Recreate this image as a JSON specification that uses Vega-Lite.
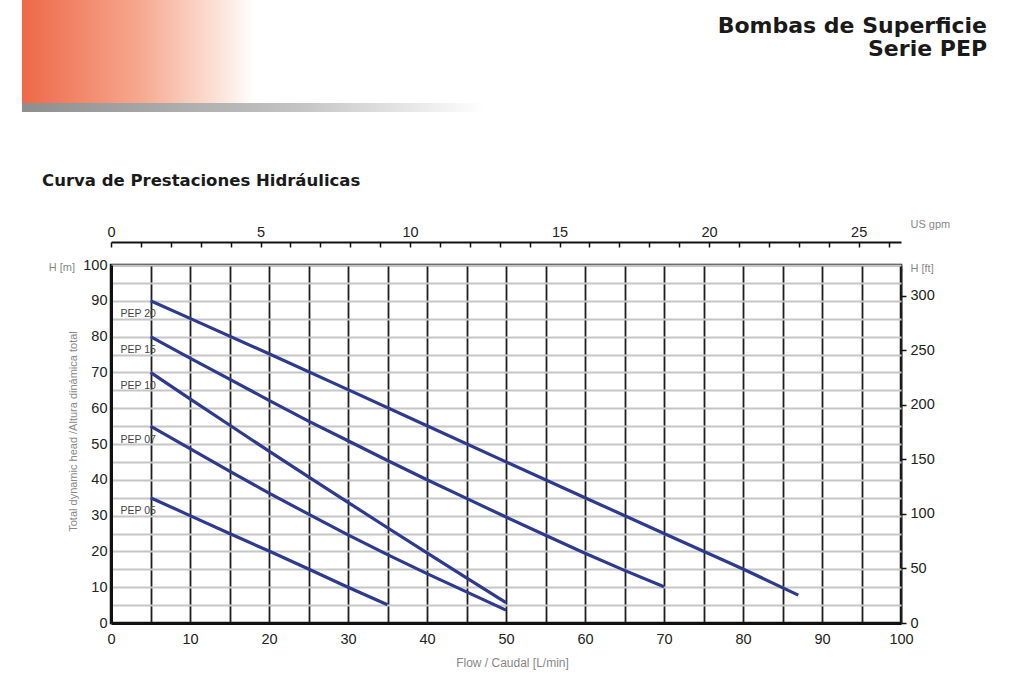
{
  "$schema": "https://vega.github.io/schema/vega-lite/v6.json",
  "width": 790,
  "height": 358,
  "autosize": "none",
  "padding": {"left": 111, "top": 265, "right": 123, "bottom": 60},
  "background": "white",
  "config": {
    "font": "Liberation Sans",
    "view": {"stroke": "#111111", "strokeWidth": 2.5},
    "axis": {"labelFont": "Liberation Sans", "titleFont": "Liberation Sans", "labelFlush": false, "labelOverlap": false}
  },
  "datasets": {
    "curves": [
      {"model": "PEP 20", "q": 5, "h": 90},
      {"model": "PEP 20", "q": 10, "h": 85.1},
      {"model": "PEP 20", "q": 20, "h": 75.2},
      {"model": "PEP 20", "q": 30, "h": 65.2},
      {"model": "PEP 20", "q": 40, "h": 55.1},
      {"model": "PEP 20", "q": 50, "h": 45},
      {"model": "PEP 20", "q": 60, "h": 35},
      {"model": "PEP 20", "q": 70, "h": 25},
      {"model": "PEP 20", "q": 80, "h": 15.1},
      {"model": "PEP 20", "q": 87, "h": 7.8},
      {"model": "PEP 15", "q": 5, "h": 80},
      {"model": "PEP 15", "q": 10, "h": 74},
      {"model": "PEP 15", "q": 15, "h": 68.1},
      {"model": "PEP 15", "q": 20, "h": 62.2},
      {"model": "PEP 15", "q": 25, "h": 56.4},
      {"model": "PEP 15", "q": 30, "h": 50.9},
      {"model": "PEP 15", "q": 35, "h": 45.4},
      {"model": "PEP 15", "q": 40, "h": 40},
      {"model": "PEP 15", "q": 45, "h": 34.8},
      {"model": "PEP 15", "q": 50, "h": 29.6},
      {"model": "PEP 15", "q": 55, "h": 24.5},
      {"model": "PEP 15", "q": 60, "h": 19.5},
      {"model": "PEP 15", "q": 65, "h": 14.7},
      {"model": "PEP 15", "q": 70, "h": 10.1},
      {"model": "PEP 10", "q": 5, "h": 70},
      {"model": "PEP 10", "q": 10, "h": 62.6},
      {"model": "PEP 10", "q": 15, "h": 55.3},
      {"model": "PEP 10", "q": 20, "h": 48},
      {"model": "PEP 10", "q": 25, "h": 40.8},
      {"model": "PEP 10", "q": 30, "h": 33.7},
      {"model": "PEP 10", "q": 35, "h": 26.6},
      {"model": "PEP 10", "q": 40, "h": 19.6},
      {"model": "PEP 10", "q": 45, "h": 12.6},
      {"model": "PEP 10", "q": 50, "h": 5.7},
      {"model": "PEP 07", "q": 5, "h": 55},
      {"model": "PEP 07", "q": 10, "h": 48.7},
      {"model": "PEP 07", "q": 15, "h": 42.4},
      {"model": "PEP 07", "q": 20, "h": 36.3},
      {"model": "PEP 07", "q": 25, "h": 30.4},
      {"model": "PEP 07", "q": 30, "h": 24.6},
      {"model": "PEP 07", "q": 35, "h": 19.1},
      {"model": "PEP 07", "q": 40, "h": 13.8},
      {"model": "PEP 07", "q": 45, "h": 8.7},
      {"model": "PEP 07", "q": 50, "h": 3.6},
      {"model": "PEP 05", "q": 5, "h": 35},
      {"model": "PEP 05", "q": 10, "h": 30},
      {"model": "PEP 05", "q": 15, "h": 25},
      {"model": "PEP 05", "q": 20, "h": 20.1},
      {"model": "PEP 05", "q": 25, "h": 15.1},
      {"model": "PEP 05", "q": 30, "h": 10},
      {"model": "PEP 05", "q": 35, "h": 5.1}
    ]
  },
  "layer": [
    {
      "data": {"name": "curves"},
      "mark": {"type": "line", "color": "#2e3a8e", "strokeWidth": 3.2, "strokeCap": "butt"},
      "encoding": {
        "x": {
          "field": "q", "type": "quantitative",
          "scale": {"domain": [0, 100], "nice": false},
          "axis": {
            "orient": "bottom",
            "title": "Flow / Caudal [L/min]",
            "values": [0, 5, 10, 15, 20, 25, 30, 35, 40, 45, 50, 55, 60, 65, 70, 75, 80, 85, 90, 95, 100],
            "labelExpr": "datum.value % 10 === 0 ? datum.label : ''",
            "grid": true, "gridColor": "#1e1e1e", "gridWidth": 1.8,
            "ticks": false, "labelPadding": 9, "labelFontSize": 14.5, "labelColor": "#222222",
            "domainColor": "#111111", "domainWidth": 3,
            "titleFontSize": 12, "titleColor": "#888888", "titleFontWeight": "normal", "titlePadding": 12, "titleX": 401
          }
        },
        "y": {
          "field": "h", "type": "quantitative",
          "scale": {"domain": [0, 100], "nice": false},
          "axis": {
            "orient": "left",
            "title": "Total dynamic head /Altura dinámica total",
            "values": [0, 5, 10, 15, 20, 25, 30, 35, 40, 45, 50, 55, 60, 65, 70, 75, 80, 85, 90, 95, 100],
            "labelExpr": "datum.value % 10 === 0 ? datum.label : ''",
            "grid": true, "gridColor": "#c6c6c6", "gridWidth": 2,
            "ticks": false, "labelPadding": 4, "labelFontSize": 14.5, "labelColor": "#222222",
            "domainColor": "#111111", "domainWidth": 3,
            "titleFontSize": 11, "titleColor": "#888888", "titleFontWeight": "normal", "titlePadding": 4, "titleY": 166
          }
        },
        "detail": {"field": "model"}
      }
    },
    {
      "data": {"name": "curves"},
      "transform": [{"filter": "datum.q === 5"}],
      "mark": {"type": "text", "align": "left", "baseline": "middle", "dx": -30, "dy": 13.5, "fontSize": 10.5, "color": "#444444"},
      "encoding": {
        "x": {"field": "q", "type": "quantitative", "scale": {"domain": [0, 100], "nice": false}, "axis": null},
        "y": {"field": "h", "type": "quantitative", "scale": {"domain": [0, 100], "nice": false}, "axis": null},
        "text": {"field": "model"}
      }
    },
    {
      "data": {"values": [{}]},
      "mark": {"type": "rect", "fill": {"gradient": "linear", "x1": 0, "y1": 0, "x2": 1, "y2": 0, "stops": [{"offset": 0, "color": "#ee6848"}, {"offset": 0.5, "color": "#f6a78e"}, {"offset": 0.85, "color": "#fde3d9"}, {"offset": 1, "color": "#ffffff"}]}},
      "encoding": {
        "x": {"datum": -11.27, "type": "quantitative", "scale": {"domain": [0, 100], "nice": false}, "axis": null},
        "x2": {"datum": 18.23},
        "y": {"datum": 174.02, "type": "quantitative", "scale": {"domain": [0, 100], "nice": false}, "axis": null},
        "y2": {"datum": 145.25}
      }
    },
    {
      "data": {"values": [{}]},
      "mark": {"type": "rect", "fill": {"gradient": "linear", "x1": 0, "y1": 0, "x2": 1, "y2": 0, "stops": [{"offset": 0, "color": "#8e8e8e"}, {"offset": 0.6, "color": "#c4c4c4"}, {"offset": 1, "color": "#ffffff"}]}},
      "encoding": {
        "x": {"datum": -11.27, "type": "quantitative", "scale": {"domain": [0, 100], "nice": false}, "axis": null},
        "x2": {"datum": 47.34},
        "y": {"datum": 145.25, "type": "quantitative", "scale": {"domain": [0, 100], "nice": false}, "axis": null},
        "y2": {"datum": 142.74}
      }
    },
    {
      "data": {"values": [{}]},
      "mark": {"type": "text", "text": "Bombas de Superficie", "align": "right", "baseline": "middle", "font": "DejaVu Sans", "fontWeight": "bold", "fontSize": 22, "color": "#1a1a1a"},
      "encoding": {
        "x": {"datum": 110.89, "type": "quantitative", "scale": {"domain": [0, 100], "nice": false}, "axis": null},
        "y": {"datum": 166.8, "type": "quantitative", "scale": {"domain": [0, 100], "nice": false}, "axis": null}
      }
    },
    {
      "data": {"values": [{}]},
      "mark": {"type": "text", "text": "Serie PEP", "align": "right", "baseline": "middle", "font": "DejaVu Sans", "fontWeight": "bold", "fontSize": 22, "color": "#1a1a1a"},
      "encoding": {
        "x": {"datum": 110.89, "type": "quantitative", "scale": {"domain": [0, 100], "nice": false}, "axis": null},
        "y": {"datum": 160.3, "type": "quantitative", "scale": {"domain": [0, 100], "nice": false}, "axis": null}
      }
    },
    {
      "data": {"values": [{}]},
      "mark": {"type": "text", "text": "Curva de Prestaciones Hidráulicas", "align": "left", "baseline": "middle", "font": "DejaVu Sans", "fontWeight": "bold", "fontSize": 16.5, "color": "#1a1a1a"},
      "encoding": {
        "x": {"datum": -8.73, "type": "quantitative", "scale": {"domain": [0, 100], "nice": false}, "axis": null},
        "y": {"datum": 123.5, "type": "quantitative", "scale": {"domain": [0, 100], "nice": false}, "axis": null}
      }
    },
    {
      "data": {"values": [{}]},
      "mark": {"type": "text", "text": "H [m]", "align": "right", "baseline": "middle", "fontSize": 11, "color": "#888888"},
      "encoding": {
        "x": {"datum": -4.56, "type": "quantitative", "scale": {"domain": [0, 100], "nice": false}, "axis": null},
        "y": {"datum": 99.1, "type": "quantitative", "scale": {"domain": [0, 100], "nice": false}, "axis": null}
      }
    },
    {
      "data": {"values": [{}]},
      "mark": {"type": "point", "opacity": 0},
      "encoding": {
        "x": {
          "datum": 0, "type": "quantitative",
          "scale": {"domain": [0, 26.417], "nice": false},
          "axis": {
            "orient": "top", "offset": 23,
            "values": [0, 1, 2, 3, 4, 5, 6, 7, 8, 9, 10, 11, 12, 13, 14, 15, 16, 17, 18, 19, 20, 21, 22, 23, 24, 25, 26],
            "labelExpr": "datum.value % 5 === 0 ? datum.label : ''",
            "grid": false, "ticks": true, "tickSize": -5, "tickWidth": 1.5, "tickColor": "#111111",
            "labelPadding": 8, "labelFontSize": 14.5, "labelColor": "#222222",
            "domainColor": "#111111", "domainWidth": 2,
            "title": "US gpm", "titleAngle": 0, "titleX": 799, "titleY": -18, "titleAlign": "left", "titleBaseline": "middle",
            "titleFontSize": 11, "titleColor": "#888888", "titleFontWeight": "normal"
          }
        },
        "y": {
          "datum": 0, "type": "quantitative",
          "scale": {"domain": [0, 328.084], "nice": false},
          "axis": {
            "orient": "right",
            "values": [0, 50, 100, 150, 200, 250, 300],
            "grid": false, "ticks": true, "tickSize": 5, "tickWidth": 1.5, "tickColor": "#111111",
            "labelPadding": 4, "labelFontSize": 14.5, "labelColor": "#222222",
            "domain": false,
            "title": "H [ft]", "titleAngle": 0, "titleX": 9, "titleY": 3, "titleAlign": "left", "titleBaseline": "middle",
            "titleFontSize": 11, "titleColor": "#888888", "titleFontWeight": "normal"
          }
        }
      }
    }
  ],
  "resolve": {"scale": {"x": "independent", "y": "independent"}}
}
